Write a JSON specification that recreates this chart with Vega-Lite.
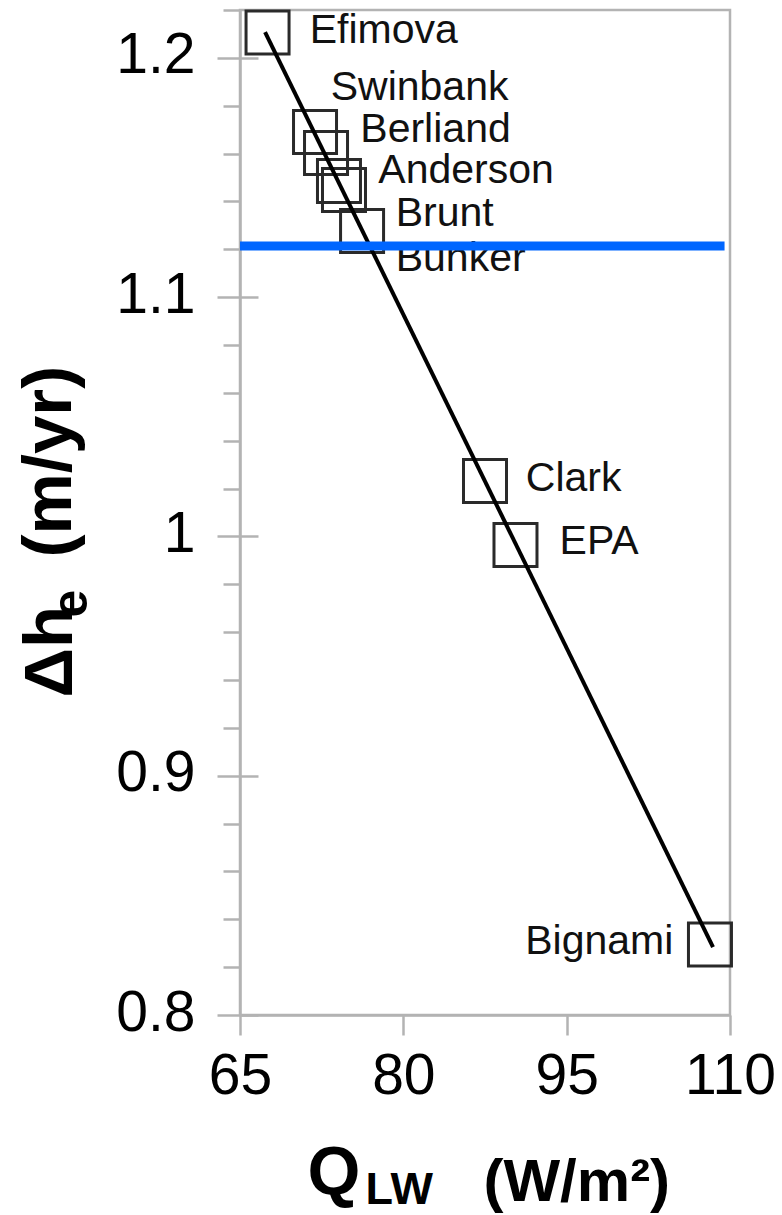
{
  "$schema": "https://vega.github.io/schema/vega-lite/v6.json",
  "width": 490,
  "height": 1005,
  "autosize": {"type": "none"},
  "padding": {"left": 240, "top": 10, "right": 52, "bottom": 200},
  "background": "white",
  "config": {
    "font": "Liberation Sans",
    "view": {"stroke": "#b3b3b3", "strokeWidth": 2.5},
    "axis": {"grid": false, "titleFont": "Liberation Sans", "labelFont": "Liberation Sans", "titleColor": "#000", "labelColor": "#000"}
  },
  "datasets": {
    "points": [
      {"model": "Efimova", "Q": 67.53, "dh": 1.2106},
      {"model": "Swinbank", "Q": 71.89, "dh": 1.1690},
      {"model": "Berliand", "Q": 72.90, "dh": 1.1602},
      {"model": "Anderson", "Q": 74.09, "dh": 1.1485},
      {"model": "Brunt", "Q": 74.55, "dh": 1.1448},
      {"model": "Bunker", "Q": 76.21, "dh": 1.1276},
      {"model": "Clark", "Q": 87.50, "dh": 1.0232},
      {"model": "EPA", "Q": 90.30, "dh": 0.9964},
      {"model": "Bignami", "Q": 108.16, "dh": 0.8295}
    ],
    "fit": [
      {"Q": 67.30, "dh": 1.2108},
      {"Q": 108.44, "dh": 0.8284}
    ],
    "labels": [
      {"text": "Efimova", "lq": 71.40, "ldh": 1.2112},
      {"text": "Swinbank", "lq": 73.33, "ldh": 1.1872},
      {"text": "Berliand", "lq": 76.05, "ldh": 1.1698},
      {"text": "Anderson", "lq": 77.70, "ldh": 1.1526},
      {"text": "Brunt", "lq": 79.30, "ldh": 1.1346},
      {"text": "Bunker", "lq": 79.30, "ldh": 1.1161},
      {"text": "Clark", "lq": 91.25, "ldh": 1.0240},
      {"text": "EPA", "lq": 94.35, "ldh": 0.9975},
      {"text": "Bignami", "lq": 104.80, "ldh": 0.8305}
    ],
    "blue": [
      {"level": 1.1214, "from": 65, "to": 109.5}
    ]
  },
  "resolve": {"axis": {"x": "independent", "y": "independent"}},
  "layer": [
    {
      "data": {"name": "points"},
      "mark": {"type": "point", "shape": "square", "filled": false, "size": 1849, "strokeWidth": 3, "color": "#2a2a2a", "opacity": 1},
      "encoding": {
        "x": {
          "field": "Q", "type": "quantitative",
          "scale": {"domain": [65, 110], "nice": false, "zero": false},
          "axis": {
            "orient": "bottom",
            "values": [65, 80, 95, 110],
            "labelFontSize": 57, "labelPadding": 13, "labelFlush": false, "labelOverlap": false,
            "tickSize": 20, "tickColor": "#b3b3b3", "tickWidth": 2.5,
            "domain": true, "domainColor": "#b3b3b3", "domainWidth": 2.5,
            "title": "Q", "titleFontSize": 68, "titleFontWeight": "bold",
            "titleX": 67, "titleY": 178, "titleAlign": "left", "titleBaseline": "alphabetic"
          }
        },
        "y": {
          "field": "dh", "type": "quantitative",
          "scale": {"domain": [0.8, 1.22], "nice": false, "zero": false},
          "axis": {
            "orient": "left",
            "values": [0.8, 0.9, 1, 1.1, 1.2],
            "format": "~g",
            "labelFontSize": 57, "labelPadding": 22, "labelOffset": -2, "labelOverlap": false, "labelFlush": false,
            "tickSize": 23, "tickColor": "#b3b3b3", "tickWidth": 2.5,
            "domain": true, "domainColor": "#b3b3b3", "domainWidth": 2.5,
            "title": "Δh", "titleFontSize": 69, "titleFontWeight": "bold", "titleAngle": 270,
            "titleX": -169, "titleY": 687, "titleAlign": "left", "titleBaseline": "alphabetic"
          }
        }
      }
    },
    {
      "data": {"name": "fit"},
      "mark": {"type": "line", "color": "#000000", "strokeWidth": 4},
      "encoding": {
        "x": {
          "field": "Q", "type": "quantitative",
          "scale": {"domain": [65, 110], "nice": false, "zero": false},
          "axis": {
            "orient": "bottom", "domain": false, "ticks": false, "labels": false,
            "title": "LW", "titleFontSize": 45, "titleFontWeight": "bold",
            "titleX": 125, "titleY": 188, "titleAlign": "left", "titleBaseline": "alphabetic"
          }
        },
        "y": {
          "field": "dh", "type": "quantitative",
          "scale": {"domain": [0.8, 1.22], "nice": false, "zero": false},
          "axis": {
            "orient": "left", "offset": -18,
            "values": [0.8, 0.9, 1, 1.1, 1.2],
            "domain": false, "labels": false,
            "tickSize": 18, "tickColor": "#b3b3b3", "tickWidth": 2.5,
            "title": "e", "titleFontSize": 50, "titleFontWeight": "bold", "titleAngle": 270,
            "titleX": -172, "titleY": 607, "titleAlign": "left", "titleBaseline": "alphabetic"
          }
        }
      }
    },
    {
      "data": {"name": "labels"},
      "transform": [{"filter": "datum.text !== 'Bignami'"}],
      "mark": {"type": "text", "align": "left", "baseline": "middle", "fontSize": 41, "font": "Liberation Sans", "color": "#111111"},
      "encoding": {
        "x": {
          "field": "lq", "type": "quantitative",
          "scale": {"domain": [65, 110], "nice": false, "zero": false},
          "axis": {
            "orient": "bottom", "domain": false, "ticks": false, "labels": false,
            "title": "(W/m²)", "titleFontSize": 60, "titleFontWeight": "bold",
            "titleX": 243, "titleY": 185, "titleAlign": "left", "titleBaseline": "alphabetic"
          }
        },
        "y": {
          "field": "ldh", "type": "quantitative",
          "scale": {"domain": [0.8, 1.22], "nice": false, "zero": false},
          "axis": {
            "orient": "left",
            "values": [0.82, 0.84, 0.86, 0.88, 0.92, 0.94, 0.96, 0.98, 1.02, 1.04, 1.06, 1.08, 1.12, 1.14, 1.16, 1.18, 1.22],
            "domain": false, "labels": false,
            "tickSize": 17, "tickColor": "#b3b3b3", "tickWidth": 2.5,
            "title": "(m/yr)", "titleFontSize": 69, "titleFontWeight": "bold", "titleAngle": 270,
            "titleX": -170, "titleY": 547, "titleAlign": "left", "titleBaseline": "alphabetic"
          }
        },
        "text": {"field": "text"}
      }
    },
    {
      "data": {"name": "labels"},
      "transform": [{"filter": "datum.text === 'Bignami'"}],
      "mark": {"type": "text", "align": "right", "baseline": "middle", "fontSize": 41, "font": "Liberation Sans", "color": "#111111"},
      "encoding": {
        "x": {"field": "lq", "type": "quantitative", "scale": {"domain": [65, 110], "nice": false, "zero": false}, "axis": null},
        "y": {"field": "ldh", "type": "quantitative", "scale": {"domain": [0.8, 1.22], "nice": false, "zero": false}, "axis": null},
        "text": {"field": "text"}
      }
    },
    {
      "data": {"name": "blue"},
      "mark": {"type": "rule", "color": "#0066ff", "strokeWidth": 9},
      "encoding": {
        "x": {"field": "from", "type": "quantitative", "scale": {"domain": [65, 110], "nice": false, "zero": false}, "axis": null},
        "x2": {"field": "to"},
        "y": {"field": "level", "type": "quantitative", "scale": {"domain": [0.8, 1.22], "nice": false, "zero": false}, "axis": null}
      }
    }
  ]
}
